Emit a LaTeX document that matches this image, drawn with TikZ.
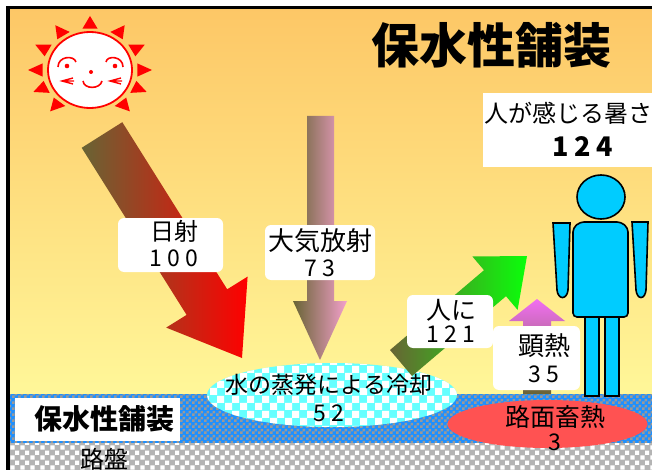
\documentclass[tikz,border=0pt]{standalone}
\usepackage{fontspec}
\setmainfont{Noto Sans CJK JP}
\usetikzlibrary{patterns}
\definecolor{skyorange}{RGB}{253,199,102}
\definecolor{skyyellow}{RGB}{255,247,153}
\definecolor{olivebrown}{RGB}{104,100,52}
\definecolor{sunred}{RGB}{255,0,0}
\definecolor{rainpink}{RGB}{244,160,204}
\definecolor{brightgreen}{RGB}{10,255,10}
\definecolor{heatpink}{RGB}{242,110,242}
\definecolor{watercyan}{RGB}{102,255,255}
\definecolor{paveblue}{RGB}{30,144,255}
\definecolor{roadgray}{RGB}{180,180,180}
\definecolor{heatred}{RGB}{255,82,82}
\definecolor{bodycyan}{RGB}{0,204,255}

% checker tiles for the ground layers
\pgfdeclarepatternformonly{finechecks}{\pgfqpoint{0pt}{0pt}}{\pgfqpoint{6pt}{6pt}}{\pgfqpoint{6pt}{6pt}}{
  \pgfpathrectangle{\pgfqpoint{0pt}{0pt}}{\pgfqpoint{3pt}{3pt}}
  \pgfpathrectangle{\pgfqpoint{3pt}{3pt}}{\pgfqpoint{3pt}{3pt}}
  \pgfusepath{fill}}
\pgfdeclarepatternformonly{roadchecks}{\pgfqpoint{0pt}{0pt}}{\pgfqpoint{10pt}{10pt}}{\pgfqpoint{10pt}{10pt}}{
  \pgfpathrectangle{\pgfqpoint{0.5pt}{0.5pt}}{\pgfqpoint{4.5pt}{4.5pt}}
  \pgfpathrectangle{\pgfqpoint{5.5pt}{5.5pt}}{\pgfqpoint{4.5pt}{4.5pt}}
  \pgfusepath{fill}}
\pgfdeclarepatternformonly{waterchecks}{\pgfqpoint{0pt}{0pt}}{\pgfqpoint{15pt}{15pt}}{\pgfqpoint{15pt}{15pt}}{
  \pgfpathrectangle{\pgfqpoint{0pt}{0pt}}{\pgfqpoint{7.5pt}{7.5pt}}
  \pgfpathrectangle{\pgfqpoint{7.5pt}{7.5pt}}{\pgfqpoint{7.5pt}{7.5pt}}
  \pgfusepath{fill}}

\newcommand\numfont{\fontsize{23}{26}\selectfont\addfontfeature{LetterSpace=22}}

\begin{document}
\begin{tikzpicture}[x=1pt,y=-1pt,every node/.style={inner sep=0pt},
  labelbox/.style={fill=white,rounded corners=6pt},
  person/.style={fill=bodycyan,draw=black,line width=1.6pt}]
\useasboundingbox (0,0) rectangle (652,470);
% sky and ground
\shade[top color=skyorange,bottom color=skyyellow] (8,7) rectangle (662,394);
\fill[paveblue] (8,394) rectangle (662,443);
\fill[pattern=finechecks,pattern color=gray!80] (8,394) rectangle (662,443);
\fill[roadgray] (8,443) rectangle (662,482);
\fill[pattern=roadchecks,pattern color=white] (8,443) rectangle (662,482);
\fill[white] (15,398) rectangle (180,441);
\node[font=\bfseries\fontsize{28}{30}\selectfont] (pavelbl) at (104,419) {保水性舗装};
\node[font=\fontsize{24}{26}\selectfont] (baselbl) at (104,459) {路盤};
\node[font=\bfseries\fontsize{48}{50}\selectfont] (title) at (491,45) {保水性舗装};

% sun
\begin{scope}[shift={(90,70)}]
\foreach \a in {0,-28,-56,-90,-124,-152,180,-204,-230,-310,-336}
  \fill[sunred] ({\a-9}:48 and 42) -- (\a:62 and 54) -- ({\a+9}:48 and 42) -- cycle;
\draw[sunred,fill=white,line width=1.8pt] (0,0) ellipse [x radius=42,y radius=38];
\draw[sunred,line width=1.6pt] (-32,-3) .. controls (-32,-14) and (-16,-15) .. (-14,-8);
\draw[sunred,line width=1.6pt] (16,-8) .. controls (17,-15) and (33,-14) .. (33,-3);
\fill[sunred] (-23,-4) circle (2.3) (25,-4) circle (2.3) (1,2) circle (2);
\draw[sunred,line width=1.6pt] (-7,11) .. controls (-6,19.5) and (10,19.5) .. (12,11);
\draw[sunred,line width=1.4pt] (-17,8) -- (-28,11) -- (-17,14) (-25,11) -- (-16,11);
\draw[sunred,line width=1.4pt] (31,8) -- (20,11) -- (31,14) (23,11) -- (32,11);
\end{scope}

% cooling by evaporation, heat kept in the pavement
\fill[watercyan] (332,395) ellipse [x radius=125,y radius=32];
\fill[pattern=waterchecks,pattern color=white] (332,395) ellipse [x radius=125,y radius=32];
\fill[heatred] (547.5,424) ellipse [x radius=100,y radius=24];

% heat flows
\shade[left color=olivebrown,right color=sunred] (81.7,147.8) -- (122.3,122.2) -- (227.2,289.3)
  -- (247.6,276.6) -- (242,358) -- (166.2,327.6) -- (186.6,314.9) -- cycle;
\shade[left color=olivebrown,right color=rainpink] (307,116) -- (334,116) -- (334,301)
  -- (347,301) -- (320,360) -- (293,301) -- (307,301) -- cycle;
\shade[left color=olivebrown,right color=brightgreen] (390,350) -- (484,270.2) -- (472.4,256.5)
  -- (527,256) -- (517.6,309.9) -- (506,296.2) -- (412,376) -- cycle;
\shade[top color=heatpink,middle color=heatpink,bottom color=olivebrown] (523,394) -- (523,321)
  -- (509,321) -- (537,299) -- (565,321) -- (551,321) -- (551,394) -- cycle;

% labels
\fill[labelbox] (118,218) rectangle (223,272);
\node[align=center,font=\fontsize{24}{26}\selectfont] (sunlbl) at (174,244) {日射\\{\numfont 100}};
\fill[labelbox] (265,225) rectangle (375,280);
\node[align=center,font=\fontsize{26}{26}\selectfont] (skylbl) at (320,253) {大気放射\\{\numfont 73}};
\fill[labelbox] (407,295) rectangle (493,348);
\node[align=center,font=\fontsize{25}{23}\selectfont] (bodylbl) at (451,321) {人に\\{\numfont 121}};
\fill[labelbox] (493,326) rectangle (580,390);
\node[align=center,font=\fontsize{26}{27}\selectfont] (heatlbl) at (544,358) {顕熱\\{\numfont 35}};
\node[align=center,font=\fontsize{23}{28}\selectfont] (waterlbl) at (329,398) {水の蒸発による冷却\\{\numfont 52}};
\node[align=center,font=\fontsize{25}{24}\selectfont] (storelbl) at (555,428) {路面畜熱\\{\numfont 3}};

% person
\filldraw[person] (585,317) rectangle (599,396);
\filldraw[person] (605,317) rectangle (619,396);
\filldraw[person,rounded corners=4pt] (573,228) -- (580,222) -- (621,222) -- (628,228)
  -- (628,317) -- (573,317) -- cycle;
\filldraw[person] (553,223) -- (570,223) -- (568,290) .. controls (567,300) and (558,300) .. (557,290) -- cycle;
\filldraw[person] (632,222) -- (648,222) -- (646,290) .. controls (645,300) and (637,300) .. (636,290) -- cycle;
\filldraw[person] (601,197) ellipse [x radius=24,y radius=22];

% felt heat
\fill[white] (483,93) rectangle (665,167);
\node[anchor=west,font=\fontsize{24}{26}\selectfont] (feellbl) at (484,113) {人が感じる暑さ};
\node[font=\bfseries\fontsize{27}{27}\selectfont\addfontfeature{LetterSpace=20}] (feelnum) at (583,147) {124};

% frame
\draw[line width=3.5pt] (8,7.7) rectangle (670,490);
\end{tikzpicture}
\end{document}
